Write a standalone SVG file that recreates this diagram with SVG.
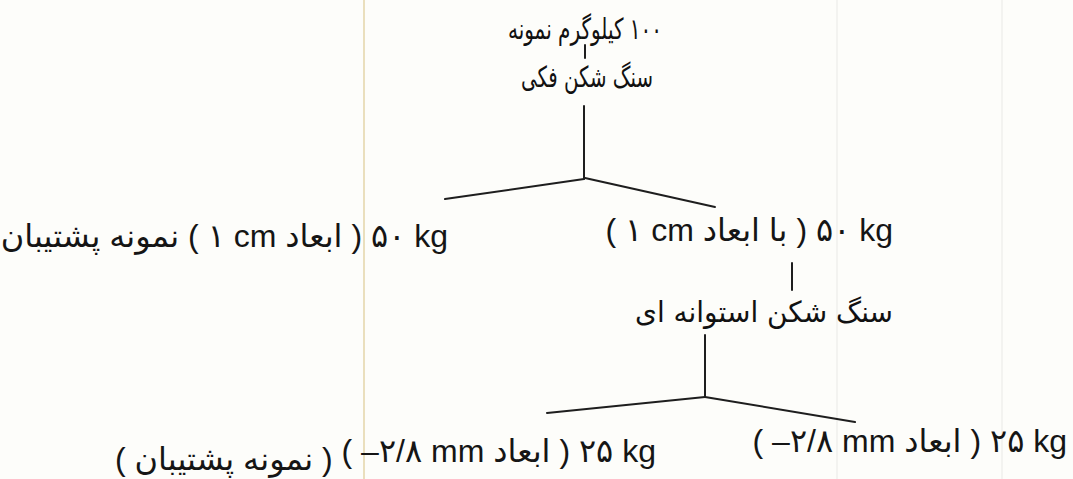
<svg xmlns="http://www.w3.org/2000/svg" width="1073" height="479" viewBox="0 0 1073 479">
<style>
  .t { font-family: "Liberation Sans", "DejaVu Sans", sans-serif; font-size: 32px; fill: #151515; }
  .fa { font-family: "DejaVu Sans", "Liberation Sans", sans-serif; font-size: 29px; fill: #111111; }
  .ln { stroke: #1e1e1e; stroke-width: 2; fill: none; stroke-linecap: round; }
  .scan { stroke-width: 1.5; fill: none; }
</style>
<rect width="1073" height="479" fill="#fdfdfa"/>
<g id="scan-artifacts">
  <line class="scan" x1="364" y1="0" x2="364" y2="479" stroke="#e3d4a8"/>
  <line class="scan" x1="837" y1="0" x2="837" y2="479" stroke="#efefec"/>
  <line class="scan" x1="1002" y1="0" x2="1002" y2="479" stroke="#efefec"/>
</g>
<g id="connectors">
  <line class="ln" x1="585" y1="45" x2="585" y2="58"/>
  <line class="ln" x1="584" y1="106" x2="584" y2="179"/>
  <line class="ln" x1="584" y1="179" x2="445" y2="199"/>
  <line class="ln" x1="585" y1="178" x2="715" y2="207"/>
  <line class="ln" x1="792" y1="263" x2="792" y2="290"/>
  <line class="ln" x1="705" y1="335" x2="705" y2="397"/>
  <line class="ln" x1="705" y1="397" x2="547" y2="413"/>
  <line class="ln" x1="705" y1="397" x2="855" y2="422"/>
</g>
<g id="node-sample">
  <text class="fa" x="585" y="39" text-anchor="middle" direction="rtl" textLength="154" lengthAdjust="spacingAndGlyphs">۱۰۰ کیلوگرم نمونه</text>
</g>
<g id="node-jaw-crusher">
  <text class="fa" x="587" y="87" text-anchor="middle" direction="rtl" textLength="132" lengthAdjust="spacingAndGlyphs">سنگ شکن فکی</text>
</g>
<g id="node-backup-1cm">
  <text class="t" x="448" y="247" text-anchor="end">نمونه پشتیبان&#x200E; ( ۱ cm ابعاد&#x200E; ) ۵۰ kg</text>
</g>
<g id="node-1cm">
  <text class="t" x="893" y="241" text-anchor="end">( ۱ cm با ابعاد&#x200E; ) ۵۰ kg</text>
</g>
<g id="node-roll-crusher">
  <text class="fa" x="764" y="322" text-anchor="middle" direction="rtl" textLength="258" lengthAdjust="spacingAndGlyphs">سنگ شکن استوانه ای</text>
</g>
<g id="node-backup-28mm">
  <text class="t" x="115" y="470">( نمونه پشتیبان&#x200E; )<tspan dy="-8"> ( –۲/۸ mm ابعاد&#x200E; ) ۲۵ kg</tspan></text>
</g>
<g id="node-28mm">
  <text class="t" x="1067" y="452" text-anchor="end">( –۲/۸ mm ابعاد&#x200E; ) ۲۵ kg</text>
</g>
</svg>
